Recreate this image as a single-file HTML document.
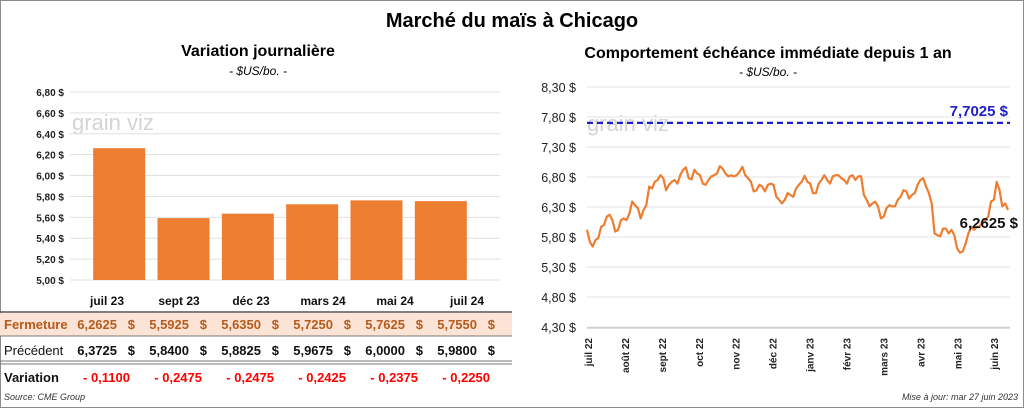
<!DOCTYPE html>
<html><head><meta charset="utf-8">
<style>
body{margin:0;background:#fff;}
#root{position:relative;width:1024px;height:408px;overflow:hidden;font-family:"Liberation Sans",sans-serif;background:#fff;}
.frame{position:absolute;left:0;top:0;width:1022px;height:406px;border:1px solid #8c8c8c;}
.t{position:absolute;white-space:nowrap;}
</style></head>
<body>
<div id="root">
<div class="frame"></div>
<div class="t" style="left:0;width:1024px;text-align:center;top:10px;font-size:20px;font-weight:bold;">Marché du maïs à Chicago</div>
<div class="t" style="left:120px;width:276px;text-align:center;top:43px;font-size:16px;font-weight:bold;">Variation  journalière</div>
<div class="t" style="left:120px;width:276px;text-align:center;top:64px;font-size:12px;font-style:italic;">- $US/bo. -</div>
<div class="t" style="left:540px;width:456px;text-align:center;top:45px;font-size:16px;font-weight:bold;">Comportement  échéance immédiate depuis 1 an</div>
<div class="t" style="left:540px;width:456px;text-align:center;top:65px;font-size:12px;font-style:italic;">- $US/bo. -</div>

<svg id="svg" width="1024" height="408" style="position:absolute;left:0;top:0"></svg>

<div class="t" style="left:4px;top:392px;font-size:9px;font-style:italic;color:#333;">Source: CME Group</div>
<div class="t" style="right:6px;top:392px;font-size:9px;font-style:italic;color:#333;">Mise à jour: mar 27 juin 2023</div>
</div>
<script>
// ---- left chart data
const contracts=["juil 23","sept 23","déc 23","mars 24","mai 24","juil 24"];
const closing=[6.2625,5.5925,5.6350,5.7250,5.7625,5.7550];
const previous=[6.3725,5.8400,5.8825,5.9675,6.0000,5.9800];
const leftTicks=[5.0,5.2,5.4,5.6,5.8,6.0,6.2,6.4,6.6,6.8];
// ---- right chart data
const monthLabels=["juil 22","août 22","sept 22","oct 22","nov 22","déc 22","janv 23","févr 23","mars 23","avr 23","mai 23","juin 23"];
const rightTicks=[4.30,4.80,5.30,5.80,6.30,6.80,7.30,7.80,8.30];
const refLevel=7.7025;
const lastPrice=6.2625;
const prices=[5.92,5.72,5.64,5.75,5.78,5.97,6.00,6.14,6.17,6.08,5.89,5.92,6.08,6.11,6.08,6.19,6.39,6.33,6.28,6.11,6.25,6.33,6.64,6.61,6.72,6.75,6.83,6.78,6.58,6.67,6.72,6.75,6.69,6.83,6.92,6.96,6.78,6.76,6.92,6.86,6.83,6.69,6.67,6.75,6.81,6.83,6.86,6.98,6.94,6.86,6.81,6.83,6.81,6.83,6.89,6.97,6.83,6.78,6.72,6.56,6.58,6.67,6.64,6.56,6.67,6.69,6.67,6.47,6.42,6.36,6.42,6.53,6.50,6.47,6.61,6.67,6.72,6.82,6.72,6.69,6.53,6.53,6.69,6.75,6.83,6.75,6.69,6.81,6.83,6.83,6.78,6.75,6.69,6.81,6.83,6.75,6.81,6.81,6.50,6.42,6.31,6.36,6.39,6.31,6.11,6.14,6.28,6.33,6.31,6.31,6.42,6.47,6.58,6.56,6.44,6.50,6.53,6.67,6.75,6.78,6.64,6.53,6.36,5.86,5.83,5.81,5.94,5.94,5.86,5.92,5.83,5.61,5.54,5.56,5.69,5.86,5.97,5.92,5.97,5.97,6.06,6.08,6.14,6.39,6.42,6.72,6.58,6.31,6.36,6.25];

const NS="http://www.w3.org/2000/svg";
const svg=document.getElementById('svg');
function mk(tag,attrs,parent){const e=document.createElementNS(NS,tag);for(const k in attrs)e.setAttribute(k,attrs[k]);(parent||svg).appendChild(e);return e;}
function fmt(v,d){return v.toFixed(d).replace('.',',');}

// watermarks
[[72,130],[587,131]].forEach(p=>{
  const w=mk('text',{x:p[0],y:p[1],'font-size':22,fill:'#d4d4d4','font-family':'Liberation Sans, sans-serif'});
  
  
  w.textContent='grain viz';
});

// ---- left bar chart
const L={x0:87,x1:473,yTop:92,yBot:280,min:5.0,max:6.8};
const ly=v=>L.yBot-(v-L.min)/(L.max-L.min)*(L.yBot-L.yTop);
const band=(L.x1-L.x0)/contracts.length;
const lx=i=>L.x0+band*(i+0.5);
// table column centres (table grid is wider than the bar band)
const tx=i=>107+72*i;
leftTicks.forEach(t=>{
  const g=mk('line',{x1:70,x2:500,y1:ly(t),y2:ly(t),stroke:'#e0e0e0','stroke-width':1});
  
  
  const tl=mk('text',{x:64,y:ly(t)+4,'text-anchor':'end','font-size':10,'font-weight':'bold',fill:'#222'});
  
  
  tl.textContent=fmt(t,2)+' $';
});
closing.forEach((v,i)=>{
  const bw=52;
  const r=mk('rect',{x:lx(i)-bw/2,y:ly(v),width:bw,height:L.yBot-ly(v),fill:'#ed7d31'});
  
  
  const c=mk('text',{x:tx(i),y:305,'text-anchor':'middle','font-size':12,'font-weight':'bold',fill:'#111'});
  
  
  c.textContent=contracts[i];
});
// table
const bg=mk('rect',{x:0,y:313,width:512,height:23,fill:'#fbe3d6'});


[[312,'#555',1.5],[336,'#777',1],[361,'#777',1],[364,'#777',1]].forEach(l=>{
  const e=mk('line',{x1:0,x2:512,y1:l[0],y2:l[0],stroke:l[1],'stroke-width':l[2]});
  
  
});
function rowLabel(txt,y,color,weight,name){
  const e=mk('text',{x:4,y:y,'font-size':13,'font-weight':weight,fill:color});
  
  
  e.textContent=txt;
}
rowLabel('Fermeture',329,'#b85a1a','bold','closing-row-label');
rowLabel('Précédent',355,'#111','normal','previous-row-label');
rowLabel('Variation',382,'#111','bold','variation-row-label');
function cell(txt,x,y,color,name){
  const e=mk('text',{x:x,y:y,'text-anchor':'end','font-size':13,'font-weight':'bold',fill:color});
  
  
  e.textContent=txt;
}
contracts.forEach((c,i)=>{
  const cx=tx(i);
  cell(fmt(closing[i],4),cx+10,329,'#b85a1a','closing-value');
  cell('$',cx+28,329,'#b85a1a','closing-currency');
  cell(fmt(previous[i],4),cx+10,355,'#111','previous-value');
  cell('$',cx+28,355,'#111','previous-currency');
  const d=closing[i]-previous[i];
  cell((d<0?'- ':'+ ')+fmt(Math.abs(d),4),cx+23,382,'#ff0000','variation-value');
});

// ---- right line chart
const R={x0:587,x1:1008,yTop:87,yBot:327,min:4.30,max:8.30};
const ry=v=>R.yBot-(v-R.min)/(R.max-R.min)*(R.yBot-R.yTop);
const rx=i=>R.x0+i/(prices.length-1)*(R.x1-R.x0);
rightTicks.forEach(t=>{
  const g=mk('line',{x1:R.x0,x2:R.x1+2,y1:ry(t),y2:ry(t),stroke:'#e3e3e3','stroke-width':1});
  
  
  const tl=mk('text',{x:576,y:ry(t)+5,'text-anchor':'end','font-size':12.5,fill:'#222'});
  
  
  tl.textContent=fmt(t,2)+' $';
});
const ax=mk('line',{x1:R.x0,x2:R.x1+2,y1:R.yBot+1,y2:R.yBot+1,stroke:'#bbb','stroke-width':1});


monthLabels.forEach((m,i)=>{
  const x=R.x0+1+i*(R.x1-R.x0)/11.4;
  const tl=mk('text',{x:0,y:0,'text-anchor':'end','font-size':10,'font-weight':'bold',fill:'#222',transform:`translate(${x+4},338) rotate(-90)`});
  
  
  tl.textContent=m;
});
const ref=mk('line',{x1:R.x0,x2:R.x1+2,y1:ry(refLevel),y2:ry(refLevel),stroke:'#1f1fc8','stroke-width':2.2,'stroke-dasharray':'6,4'});


const rl=mk('text',{x:1008,y:ry(refLevel)-7,'text-anchor':'end','font-size':15,'font-weight':'bold',fill:'#1f1fc8'});


rl.textContent=fmt(refLevel,4)+' $';
const pl=mk('polyline',{points:prices.map((p,i)=>rx(i).toFixed(1)+','+ry(p).toFixed(1)).join(' '),fill:'none',stroke:'#ed7d31','stroke-width':2.2,'stroke-linejoin':'round'});


const ll=mk('text',{x:1018,y:228,'text-anchor':'end','font-size':15,'font-weight':'bold',fill:'#111'});


ll.textContent=fmt(lastPrice,4)+' $';
</script>
</body></html>
